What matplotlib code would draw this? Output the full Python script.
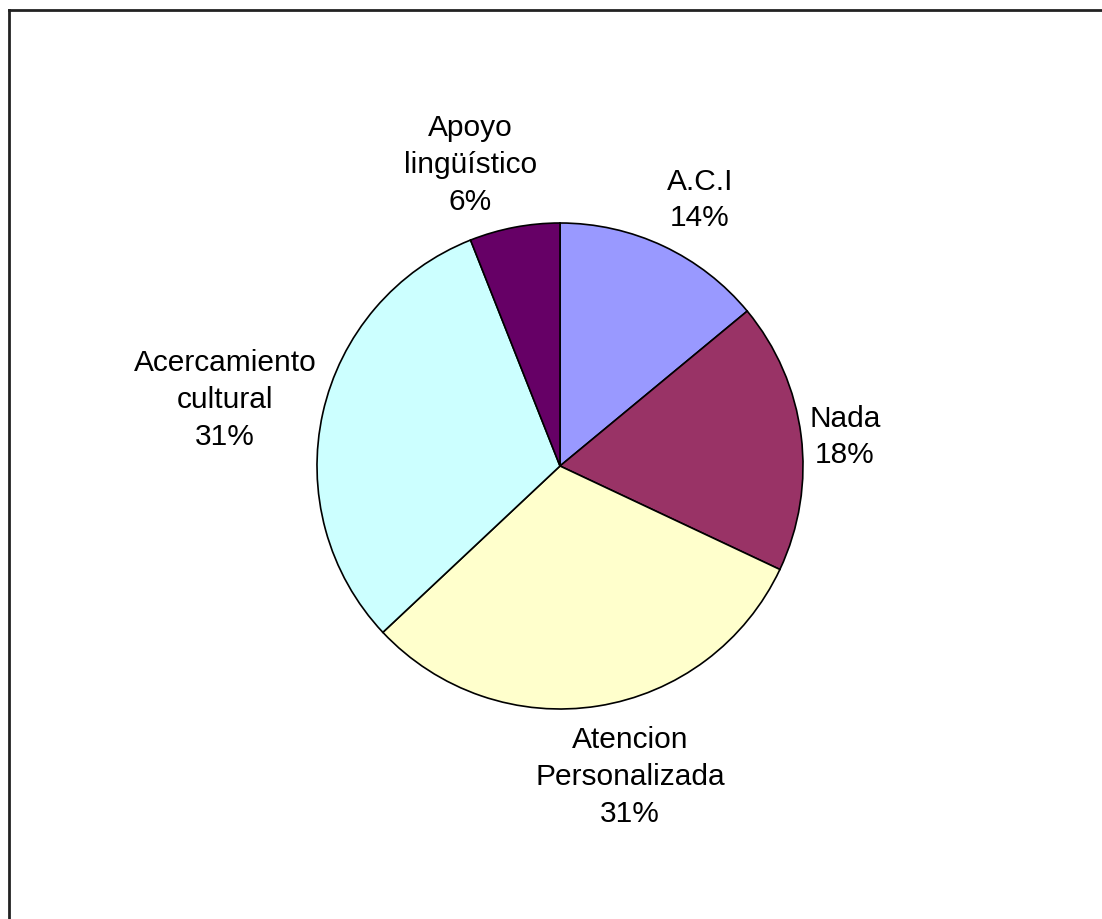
import matplotlib
matplotlib.use('Agg')
import matplotlib.pyplot as plt
from matplotlib.lines import Line2D

# Data (clockwise from 12 o'clock)
categories = ['A.C.I', 'Nada', 'Atencion\nPersonalizada', 'Acercamiento\ncultural', 'Apoyo\nlingüístico']
percentages = [14, 18, 31, 31, 6]
colors = ['#9999FF', '#993366', '#FFFFCC', '#CCFFFF', '#660066']

# Label centres in pie-radius units (layout only)
label_xy = [(0.576, 1.095), (1.173, 0.119), (0.288, -1.280), (-1.379, 0.272), (-0.370, 1.239)]

plt.rcParams['font.family'] = ['Liberation Sans', 'DejaVu Sans']

W, H = 1102, 919
fig = plt.figure(figsize=(W / 100, H / 100), dpi=100, facecolor='white')

# pie centre and radius in pixels
cx, cy, r = 560, 466, 243
ax = fig.add_axes([(cx - r) / W, (H - cy - r) / H, 2 * r / W, 2 * r / H])
ax.pie(percentages, colors=colors, startangle=90, counterclock=False, radius=1,
       wedgeprops=dict(edgecolor='black', linewidth=1.2))
ax.set_xlim(-1, 1)
ax.set_ylim(-1, 1)
ax.set_aspect('equal')
ax.axis('off')

for name, pct, (lx, ly) in zip(categories, percentages, label_xy):
    ax.text(lx, ly, f'{name}\n{pct}%', ha='center', va='center', fontsize=21.5,
            linespacing=1.4, color='black', clip_on=False)

# chart frame (only top and left edges visible in the crop)
fig.add_artist(Line2D([9 / W, 9 / W], [0, 1 - 10 / H], color='#222222', lw=2,
                      transform=fig.transFigure))
fig.add_artist(Line2D([9 / W, 1], [1 - 10 / H, 1 - 10 / H], color='#222222', lw=2,
                      transform=fig.transFigure))

fig.savefig('out.png', dpi=100, facecolor='white')
